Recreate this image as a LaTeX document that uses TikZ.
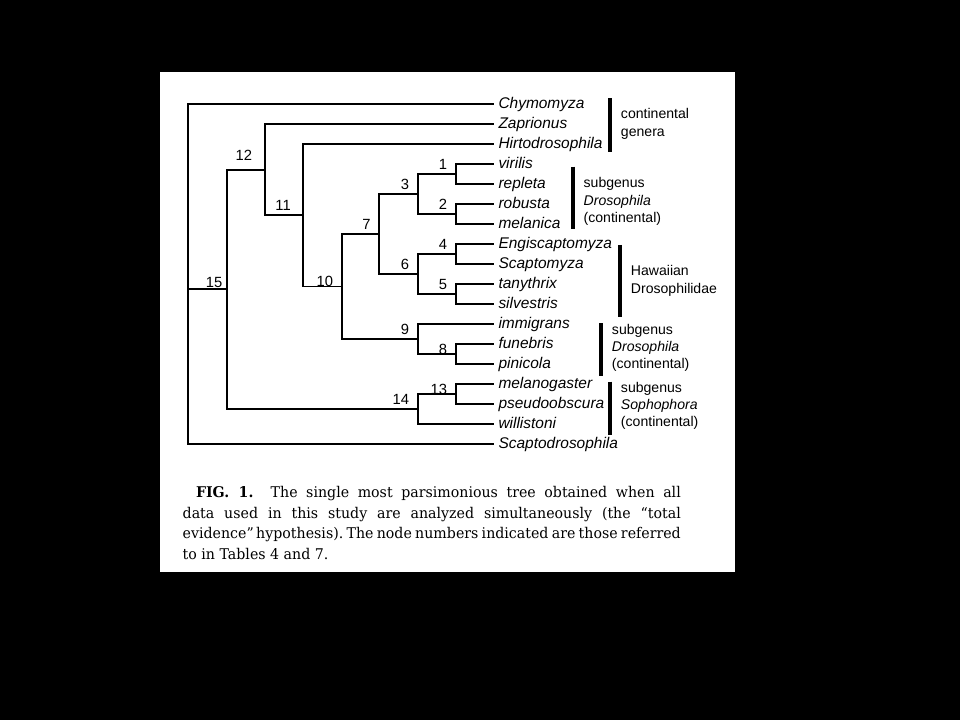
\documentclass[tikz,border=0pt]{standalone}
\usepackage{fontspec}
\setsansfont{Liberation Sans}
\newfontfamily\capfont[FakeStretch=0.96]{DejaVu Serif}
\usepackage{tikz}

\tikzset{
  leaf/.style={anchor=west,inner xsep=2.5pt,inner ysep=0pt,text height=8pt,text depth=2pt,
    font=\sffamily\itshape\fontsize{11}{13}\selectfont},
  num/.style={anchor=base east,inner sep=0pt,xshift=-5.5pt,yshift=3.5pt,
    font=\sffamily\fontsize{10.5}{12}\selectfont},
  grp/.style={anchor=west,inner sep=0pt,align=left,font=\sffamily\fontsize{10}{12.3}\selectfont},
  bar/.style={line width=2.8pt},
}

\begin{document}
\begin{tikzpicture}[x=0.025cm,y=-0.025cm,line width=1.4pt]
\fill[black] (0,0) rectangle (960,720);
\fill[white] (160,72) rectangle (735,572);

\node[leaf] (chy) at (494,104) {Chymomyza};
\node[leaf] (zap) at (494,124) {Zaprionus};
\node[leaf] (hir) at (494,144) {Hirtodrosophila};
\node[leaf] (vir) at (494,164) {virilis};
\node[leaf] (rep) at (494,184) {repleta};
\node[leaf] (rob) at (494,204) {robusta};
\node[leaf] (mel) at (494,224) {melanica};
\node[leaf] (eng) at (494,244) {Engiscaptomyza};
\node[leaf] (sca) at (494,264) {Scaptomyza};
\node[leaf] (tan) at (494,284) {tanythrix};
\node[leaf] (sil) at (494,304) {silvestris};
\node[leaf] (imm) at (494,324) {immigrans};
\node[leaf] (fun) at (494,344) {funebris};
\node[leaf] (pin) at (494,364) {pinicola};
\node[leaf] (mgr) at (494,384) {melanogaster};
\node[leaf] (pse) at (494,404) {pseudoobscura};
\node[leaf] (wil) at (494,424) {willistoni};
\node[leaf] (scd) at (494,444) {Scaptodrosophila};

\coordinate (root) at (187.7,289.3);
\coordinate (n15) at (226.7,289.3);
\coordinate (n12) at (265.3,169.6);
\coordinate (n11) at (303.3,215.3);
\coordinate (n10) at (341.7,286.5);
\coordinate (n7) at (379.3,234);
\coordinate (n3) at (417.7,194);
\coordinate (n6) at (417.7,274);
\coordinate (n9) at (417.7,339);
\coordinate (n14) at (417.7,409);
\coordinate (n1) at (455.7,174);
\coordinate (n2) at (455.7,214);
\coordinate (n4) at (455.7,254);
\coordinate (n5) at (455.7,294);
\coordinate (n8) at (455.7,354);
\coordinate (n13) at (455.7,394);

\draw (root) |- (chy.west);
\draw (root) |- (scd.west);
\draw (root) -- (n15);
\draw (n15) |- (n12);
\draw (n15) |- (n14);
\draw (n12) |- (zap.west);
\draw (n12) |- (n11);
\draw (n11) |- (hir.west);
\draw (n11) |- (n10);
\draw (n10) |- (n7);
\draw (n10) |- (n9);
\draw (n7) |- (n3);
\draw (n7) |- (n6);
\draw (n3) |- (n1);
\draw (n3) |- (n2);
\draw (n1) |- (vir.west);
\draw (n1) |- (rep.west);
\draw (n2) |- (rob.west);
\draw (n2) |- (mel.west);
\draw (n6) |- (n4);
\draw (n6) |- (n5);
\draw (n4) |- (eng.west);
\draw (n4) |- (sca.west);
\draw (n5) |- (tan.west);
\draw (n5) |- (sil.west);
\draw (n9) |- (imm.west);
\draw (n9) |- (n8);
\draw (n8) |- (fun.west);
\draw (n8) |- (pin.west);
\draw (n14) |- (n13);
\draw (n14) |- (wil.west);
\draw (n13) |- (mgr.west);
\draw (n13) |- (pse.west);

\node[num] (l1) at (n1) {1};
\node[num] (l2) at (n2) {2};
\node[num] (l3) at (n3) {3};
\node[num] (l4) at (n4) {4};
\node[num] (l5) at (n5) {5};
\node[num] (l6) at (n6) {6};
\node[num] (l7) at (n7) {7};
\node[num,yshift=-3.8pt] (l8) at (n8) {8};
\node[num] (l9) at (n9) {9};
\node[num,yshift=-3.8pt] (l10) at (n10) {10};
\node[num,xshift=-2.7pt] (l11) at (n11) {11};
\node[num,xshift=-3.2pt,yshift=3pt] (l12) at (n12) {12};
\node[num,yshift=-3.8pt] (l13) at (n13) {13};
\node[num] (l14) at (n14) {14};
\node[num,xshift=3.1pt,yshift=-2.5pt] (l15) at (n15) {15};

\draw[bar] (610,98.3) -- (610,151.7);
\draw[bar] (572.7,166.7) -- (572.7,229.3);
\draw[bar] (620,245) -- (620,316.7);
\draw[bar] (601,323.3) -- (601,376);
\draw[bar] (610,381.7) -- (610,435);

\node[grp] (g1) at (620,124) {continental\\genera};
\node[grp] (g2) at (582.7,201.5) {subgenus\\\textit{Drosophila}\\(continental)};
\node[grp] (g3) at (630,281) {Hawaiian\\Drosophilidae};
\node[grp] (g4) at (611,348) {subgenus\\\textit{Drosophila}\\(continental)};
\node[grp] (g5) at (620,406) {subgenus\\\textit{Sophophora}\\(continental)};

\node[anchor=north west,inner sep=0pt,text width=12.45cm,align=justify,
  font=\capfont\fontsize{10.5}{14.6}\selectfont] (cap) at (181.7,485.5)
  {\frenchspacing\hyphenpenalty=10000\relax
  \hspace*{9.5pt}{\bfseries FIG. 1.}\ \ The single most parsimonious tree obtained when all\linebreak
  data used in this study are analyzed simultaneously (the “total\linebreak
  evidence”\,hypothesis). The node numbers indicated are those referred\linebreak
  to in Tables 4 and 7.};
\end{tikzpicture}
\end{document}
